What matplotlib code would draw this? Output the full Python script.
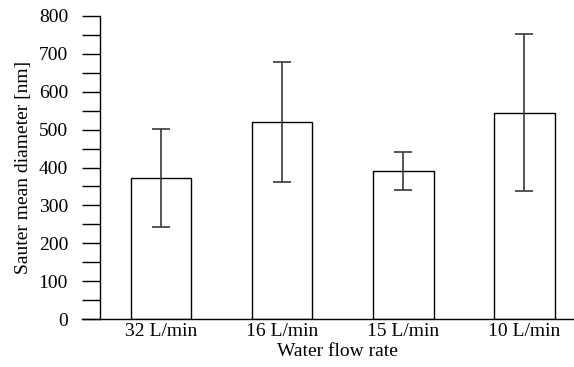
import matplotlib
matplotlib.use("Agg")
import matplotlib.pyplot as plt
from matplotlib.ticker import MultipleLocator

categories = ["32 L/min", "16 L/min", "15 L/min", "10 L/min"]
means = [372, 519, 391, 544]
err_low = [130, 158, 51, 206]
err_high = [130, 160, 50, 208]

plt.rcParams['font.family'] = ['Liberation Serif', 'DejaVu Serif']
plt.rcParams['font.size'] = 14

fig = plt.figure(figsize=(5.74, 3.67), dpi=100)
ax = fig.add_axes([100/574, 48/367, 474/574, 303/367])
x = list(range(len(categories)))
ax.bar(x, means, width=0.5, color='white', edgecolor='black', linewidth=1.0, zorder=2)
ax.errorbar(x, means, yerr=[err_low, err_high], fmt='none', ecolor='#3a3a3a',
            elinewidth=1.2, capsize=6.5, capthick=1.2, zorder=3)

ax.set_xlim(-0.504, 3.41)
ax.set_ylim(0, 800)
ax.yaxis.set_major_locator(MultipleLocator(100))
ax.yaxis.set_minor_locator(MultipleLocator(50))
ax.tick_params(axis='y', which='both', direction='out', length=13, width=1.0, pad=10)
ax.tick_params(axis='x', length=0, pad=3)
ax.set_xticks(x)
ax.set_xticklabels(categories)
for s in ['top', 'right']:
    ax.spines[s].set_visible(False)
ax.spines['left'].set_linewidth(1.0)
ax.spines['bottom'].set_linewidth(1.0)
ax.spines['bottom'].set_bounds(-0.504 - 18/121, 3.41)
ax.spines['bottom'].set_clip_on(False)
ax.set_ylabel('Sauter mean diameter [nm]', labelpad=5)
ax.set_xlabel('Water flow rate', labelpad=2)

fig.savefig('out.png', dpi=100)
